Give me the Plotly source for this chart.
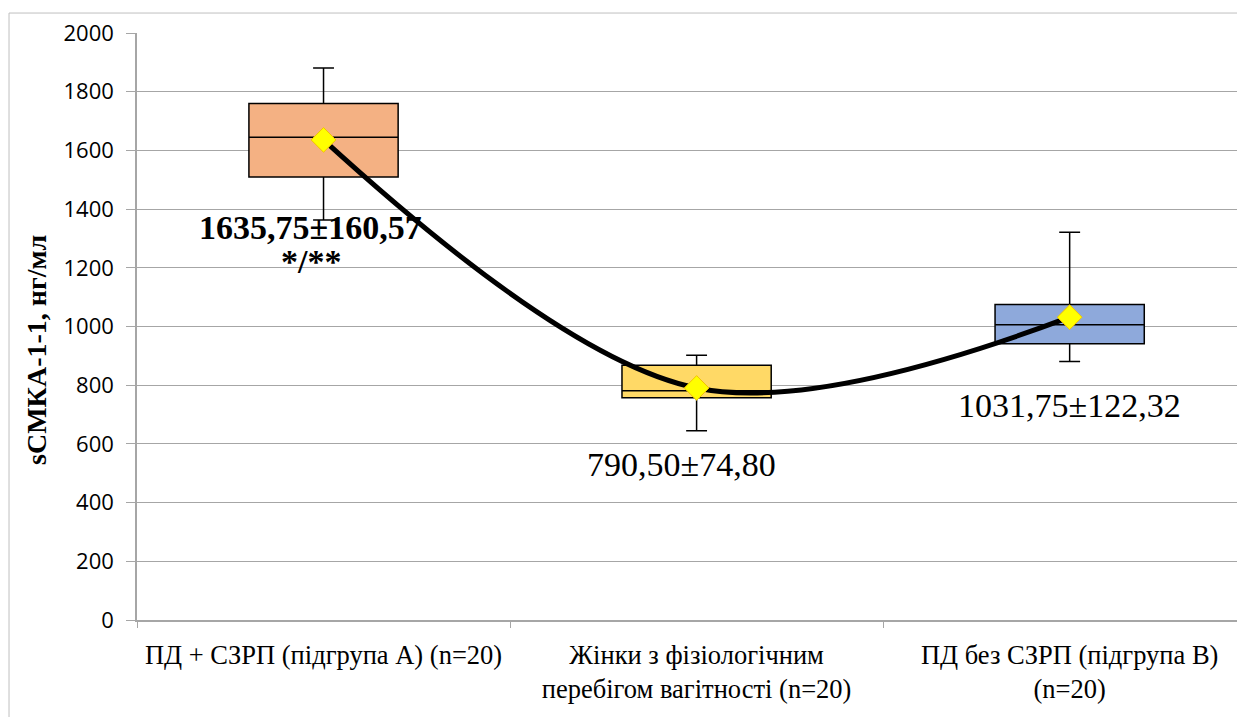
import plotly.graph_objects as go

categories = ["ПД + СЗРП (підгрупа А) (n=20)",
              "Жінки з фізіологічним<br>перебігом вагітності (n=20)",
              "ПД без СЗРП (підгрупа В)<br>(n=20)"]
q1 = [1509, 757, 941]
median = [1645, 781, 1006]
q3 = [1760, 868, 1075]
lower = [1363, 645, 881]
upper = [1881, 902, 1321]
means = [1635.75, 790.50, 1031.75]
sds = [160.57, 74.80, 122.32]
mean_labels = ["1635,75±160,57", "790,50±74,80", "1031,75±122,32"]
box_colors = ["#F4B183", "#FFD966", "#8EA9DB"]
y_ticks = [0, 200, 400, 600, 800, 1000, 1200, 1400, 1600, 1800, 2000]
y_title = "sСМКА-1-1, нг/мл"

SERIF = "Liberation Serif"

fig = go.Figure()
for i, c in enumerate(categories):
    fig.add_trace(go.Box(
        x=[c], q1=[q1[i]], median=[median[i]], q3=[q3[i]],
        lowerfence=[lower[i]], upperfence=[upper[i]],
        fillcolor=box_colors[i], line=dict(color="#000000", width=1.5),
        width=0.4, whiskerwidth=0.14, boxpoints=False, showlegend=False,
        hoverinfo="skip"))

fig.add_trace(go.Scatter(
    x=categories, y=means, mode="lines",
    line=dict(color="#000000", width=5, shape="spline", smoothing=1.0),
    showlegend=False, hoverinfo="skip"))
fig.add_trace(go.Scatter(
    x=categories, y=means, mode="markers",
    marker=dict(symbol="diamond", size=19, color="#FFFF00",
                line=dict(color="#F2C200", width=1)),
    showlegend=False, hoverinfo="skip"))

# labels
label_font = dict(family=SERIF, size=34, color="#000000")
fig.add_annotation(x=categories[0], y=means[0] - 300, text="<b>" + mean_labels[0] + "</b>",
                   showarrow=False, font=label_font, xshift=-13)
fig.add_annotation(x=categories[0], y=means[0] - 415, text="<b>*/**</b>",
                   showarrow=False, font=label_font, xshift=-13)
fig.add_annotation(x=categories[1], y=means[1] - 260, text=mean_labels[1],
                   showarrow=False, font=label_font, xshift=-15)
fig.add_annotation(x=categories[2], y=means[2] - 300, text=mean_labels[2],
                   showarrow=False, font=label_font, xshift=0)

# y-axis title (placed as rotated annotation to match reference position)
fig.add_annotation(xref="paper", yref="y", x=-0.0903, y=920, text="<b>" + y_title + "</b>",
                   textangle=-90, showarrow=False, xanchor="center", yanchor="middle",
                   font=dict(family=SERIF, size=28, color="#000000"))

# outer chart border
fig.add_shape(type="rect", xref="paper", yref="paper",
              x0=-0.1155, x1=1.2, y0=-0.5, y1=1.034,
              line=dict(color="#BFBFBF", width=1), fillcolor="rgba(0,0,0,0)", layer="below")

fig.update_layout(
    width=1237, height=709,
    margin=dict(l=129, r=0, t=25, b=97, autoexpand=False),
    paper_bgcolor="#FFFFFF", plot_bgcolor="#FFFFFF",
    boxmode="overlay",
    xaxis=dict(type="category", range=[-0.5, 2.47], tickson="boundaries",
               ticks="outside", ticklen=6, tickcolor="#A6A6A6", automargin=False,
               showgrid=False, showline=True, linecolor="#A6A6A6", linewidth=1.5,
               tickfont=dict(family=SERIF, size=26.5, color="#000000"),
               ticklabelstandoff=10),
    yaxis=dict(range=[0, 2000], tickvals=y_ticks, ticks="outside", ticklen=9,
               tickcolor="#A6A6A6", showline=True, linecolor="#A6A6A6", linewidth=1.5,
               showgrid=True, gridcolor="#A6A6A6", gridwidth=1, zeroline=False,
               automargin=False,
               tickfont=dict(family="Open Sans", size=22, color="#000000"),
               ticklabelstandoff=8),
)

fig.write_html("out.html")
